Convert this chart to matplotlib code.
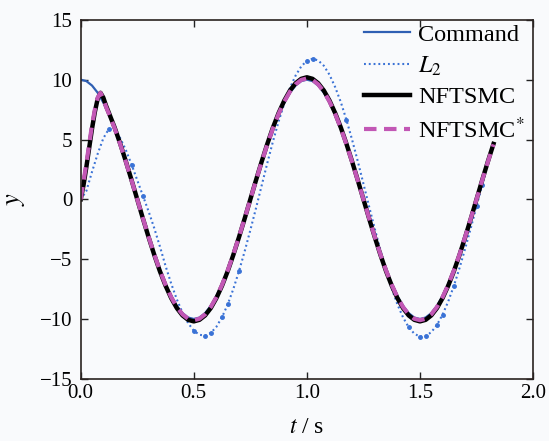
import numpy as np
from matplotlib import pyplot as plt

# time grid, s
t = [i * 0.025 for i in range(74)]

command = [
    10.0, 9.88, 9.51, 8.91, 8.09, 7.07, 5.88, 4.54, 3.09, 1.56, 0.0,
    -1.56, -3.09, -4.54, -5.88, -7.07, -8.09, -8.91, -9.51, -9.88, -10.0,
    -9.88, -9.51, -8.91, -8.09, -7.07, -5.88, -4.54, -3.09, -1.56, 0.0,
    1.56, 3.09, 4.54, 5.88, 7.07, 8.09, 8.91, 9.51, 9.88, 10.0,
    9.88, 9.51, 8.91, 8.09, 7.07, 5.88, 4.54, 3.09, 1.56, 0.0,
    -1.56, -3.09, -4.54, -5.88, -7.07, -8.09, -8.91, -9.51, -9.88, -10.0,
    -9.88, -9.51, -8.91, -8.09, -7.07, -5.88, -4.54, -3.09, -1.56, 0.0,
    1.56, 3.09, 4.54,
]

l2 = [
    0.0, 0.7, 2.3, 3.8, 5.1, 5.9, 5.8, 5.1, 4.1, 2.9, 1.6,
    0.3, -1.0, -2.4, -3.93, -5.56, -7.04, -8.36, -9.47, -10.35, -10.97,
    -11.32, -11.39, -11.17, -10.65, -9.84, -8.78, -7.48, -5.99, -4.34, -2.57,
    -0.74, 1.15, 3.03, 4.84, 6.51, 8.01, 9.30, 10.34, 11.11, 11.58,
    11.75, 11.61, 11.16, 10.41, 9.38, 8.12, 6.63, 4.97, 3.18, 1.30,
    -0.60, -2.45, -4.24, -5.92, -7.44, -8.77, -9.86, -10.69, -11.23, -11.48,
    -11.43, -11.10, -10.50, -9.63, -8.53, -7.22, -5.73, -4.10, -2.37, -0.58,
    1.23, 3.00, 4.70,
]

# start-up part of the two sliding mode controllers (finer steps)
t_start = [0.0, 0.0125, 0.025, 0.0375, 0.05, 0.0625, 0.075, 0.0875, 0.1, 0.1125]
nft_start = [0.0, 1.2, 2.7, 4.3, 5.9, 7.3, 8.4, 8.9, 8.5, 7.8]
nft2_start = [0.0, 1.5, 3.0, 4.6, 6.2, 7.5, 8.5, 8.9, 8.4, 7.7]

nft_rest = [
    7.21, 6.00, 4.63, 3.15, 1.60, 0.0,
    -1.60, -3.15, -4.63, -6.00, -7.21, -8.25, -9.09, -9.70, -10.07, -10.2,
    -10.07, -9.70, -9.09, -8.25, -7.21, -6.00, -4.63, -3.15, -1.60, 0.0,
    1.60, 3.15, 4.63, 6.00, 7.21, 8.25, 9.09, 9.70, 10.07, 10.2,
    10.07, 9.70, 9.09, 8.25, 7.21, 6.00, 4.63, 3.15, 1.60, 0.0,
    -1.60, -3.15, -4.63, -6.00, -7.21, -8.25, -9.09, -9.70, -10.07, -10.2,
    -10.07, -9.70, -9.09, -8.25, -7.21, -6.00, -4.63, -3.15, -1.60, 0.0,
    1.60, 3.15, 4.63,
]
nft2_rest = [
    7.14, 5.94, 4.59, 3.12, 1.58, 0.0,
    -1.58, -3.12, -4.59, -5.94, -7.14, -8.17, -9.00, -9.61, -9.98, -10.1,
    -9.98, -9.61, -9.00, -8.17, -7.14, -5.94, -4.59, -3.12, -1.58, 0.0,
    1.58, 3.12, 4.59, 5.94, 7.14, 8.17, 9.00, 9.61, 9.98, 10.1,
    9.98, 9.61, 9.00, 8.17, 7.14, 5.94, 4.59, 3.12, 1.58, 0.0,
    -1.58, -3.12, -4.59, -5.94, -7.14, -8.17, -9.00, -9.61, -9.98, -10.1,
    -9.98, -9.61, -9.00, -8.17, -7.14, -5.94, -4.59, -3.12, -1.58, 0.0,
    1.58, 3.12, 4.59,
]

t_nft = t_start + t[5:]
nftsmc = nft_start + nft_rest
nftsmc2 = nft2_start + nft2_rest

l2_marks = [5, 9, 11, 20, 22, 23, 25, 26, 28, 40, 41, 47, 58, 60, 61, 63, 64, 66, 70, 71]

plt.rcParams['font.family'] = ['Liberation Serif', 'DejaVu Serif']
plt.rcParams['mathtext.fontset'] = 'stix'

bg = '#f9fafc'
fig = plt.figure(figsize=(5.49, 4.41), dpi=100, facecolor=bg)
ax = fig.add_axes([0.147, 0.141, 0.824, 0.814], facecolor=bg)

ax.plot(t, command, color='#2f5fb3', lw=1.6, label='Command')
ax.plot(t, l2, color='#3a72d6', lw=1.5, ls=(0, (0.9, 1.4)), label='$L_2$')
ax.plot(t, l2, ls='none', color='#3a72d6', marker='o', ms=2.5,
        markevery=l2_marks, label='_nolegend_')
ax.plot(t_nft, nftsmc, color='black', lw=3.2, label='NFTSMC')
ax.plot(t_nft, nftsmc2, color='#c257b5', lw=3.0, ls=(0, (3, 1.8)),
        label='NFTSMC$^{*}$')

ax.set_xlim(0, 2.0)
ax.set_ylim(-15, 15)
ax.set_xticks(np.arange(0, 2.01, 0.5))
ax.set_yticks(np.arange(-15, 16, 5))
ax.xaxis.set_major_formatter(plt.FormatStrFormatter('%.1f'))
ax.tick_params(direction='in', length=5, width=1, labelsize=15,
               top=True, right=True, colors='#222222', labelcolor='black')
ax.tick_params(axis='y', pad=6)
for sp in ax.spines.values():
    sp.set_linewidth(1.2)
    sp.set_color('#2a2220')

ax.set_xlabel('$t$ / s', fontsize=17, labelpad=10)
ax.set_ylabel('$y$', fontsize=19, labelpad=9)

ax.legend(loc='upper right', bbox_to_anchor=(1.015, 1.03), frameon=False,
          fontsize=17.5, handlelength=1.9, handletextpad=0.35,
          labelspacing=0.36, borderaxespad=0.2)

plt.savefig('out.png', dpi=100, facecolor=bg)
